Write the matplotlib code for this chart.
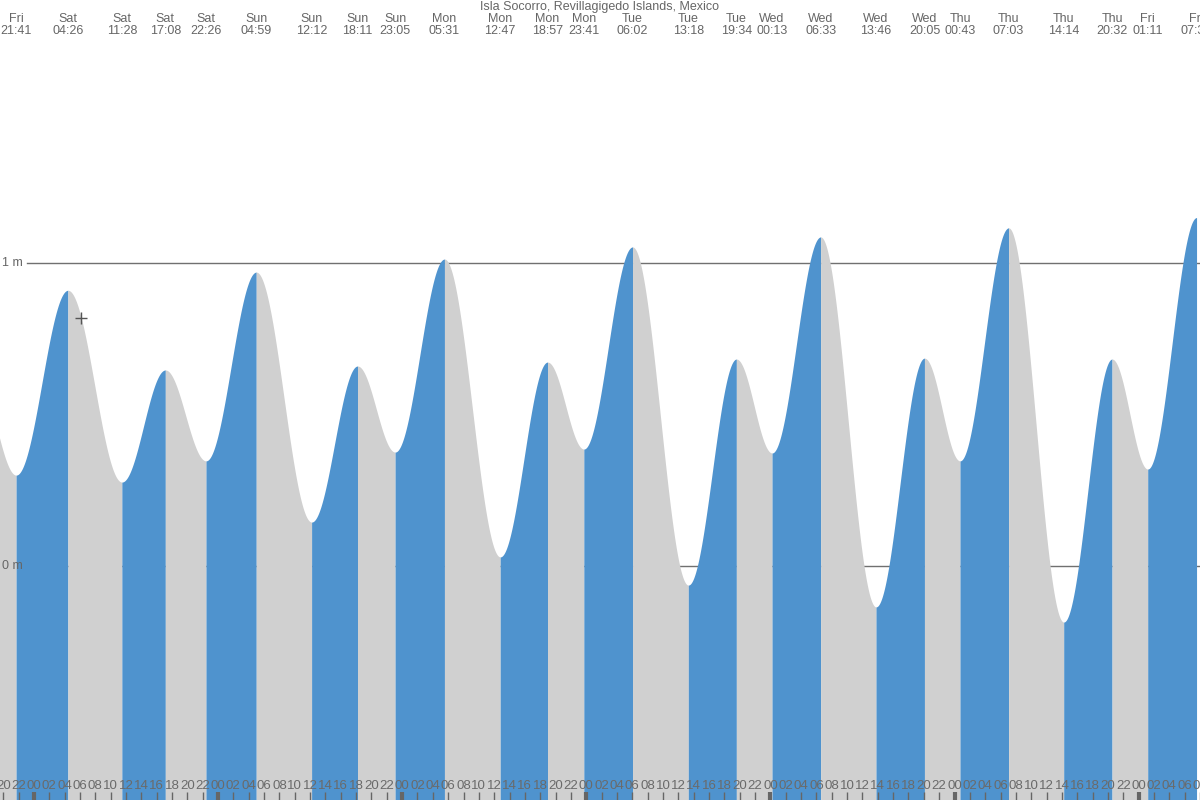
import numpy as np
import matplotlib
matplotlib.use("Agg")
import matplotlib.pyplot as plt
from matplotlib.transforms import blended_transform_factory

plt.rcParams['font.family'] = ['Liberation Sans', 'DejaVu Sans']

title = "Isla Socorro, Revillagigedo Islands, Mexico"

# tide extremes (day, time, height in m); first one is off-chart on the left
ext_day = ["Fri", "Fri", "Sat", "Sat", "Sat", "Sat", "Sun", "Sun", "Sun", "Sun",
           "Mon", "Mon", "Mon", "Mon", "Tue", "Tue", "Tue", "Wed", "Wed", "Wed",
           "Wed", "Thu", "Thu", "Thu", "Thu", "Fri", "Fri"]
ext_time = ["16:25", "21:41", "04:26", "11:28", "17:08", "22:26", "04:59", "12:12",
            "18:11", "23:05", "05:31", "12:47", "18:57", "23:41", "06:02", "13:18",
            "19:34", "00:13", "06:33", "13:46", "20:05", "00:43", "07:03", "14:14",
            "20:32", "01:11", "07:33"]
ext_height = [0.64, 0.30, 0.91, 0.277, 0.647, 0.347, 0.97, 0.145, 0.66, 0.376,
              1.013, 0.03, 0.673, 0.386, 1.053, -0.063, 0.683, 0.373, 1.086, -0.135,
              0.686, 0.347, 1.116, -0.185, 0.683, 0.32, 1.15]

now_t, now_h = 6.1, 0.818   # the "+" marker (hours from Sat 00:00)

# hours relative to Saturday 00:00
offs = []
d = -1
prev = ext_day[0]
for name in ext_day:
    if name != prev:
        d += 1
        prev = name
    offs.append(d)
ext_t = np.array([o * 24 + int(s[:2]) + int(s[3:]) / 60 for o, s in zip(offs, ext_time)])
ext_h = np.array(ext_height)

BLUE = "#4f93ce"
GREY = "#d0d0d0"
TXT = "#666666"

fig = plt.figure(figsize=(12, 8), dpi=100)
ax = fig.add_axes([0, 0, 1, 1])
pxh = 7.7
xmin, xmax = -34 / pxh, 1166 / pxh
ymin, ymax = -234 / 303, 566 / 303
ax.set_xlim(xmin, xmax)
ax.set_ylim(ymin, ymax)
for s in ax.spines.values():
    s.set_visible(False)

# reference lines behind the fill
for lv in [0, 1]:
    ax.axhline(lv, xmin=27 / 1200, color="#707070", lw=1, zorder=1)
    ax.text(0.002, lv, f"{lv} m", transform=blended_transform_factory(ax.transAxes, ax.transData),
            color=TXT, fontsize=9, ha="left", va="center", zorder=5)

# cosine interpolation between extremes, blue rising / grey falling
for i in range(len(ext_t) - 1):
    t0, t1 = ext_t[i], ext_t[i + 1]
    h0, h1 = ext_h[i], ext_h[i + 1]
    tt = np.linspace(t0, t1, 200)
    hh = h0 + (h1 - h0) * (1 - np.cos(np.pi * (tt - t0) / (t1 - t0))) / 2
    ax.fill_between(tt, ymin, hh, color=BLUE if h1 > h0 else GREY, lw=0, zorder=2)

ax.plot([now_t], [now_h], marker="+", ms=9, mew=1, color="#555555", zorder=6)

# labels of extremes on top
tr = blended_transform_factory(ax.transData, ax.transAxes)
for name, tm, t in zip(ext_day, ext_time, ext_t):
    if t < xmin:
        continue
    ax.text(t, 1 - 19 / 800, name, transform=tr, ha="center", va="center", fontsize=9, color=TXT)
    ax.text(t, 1 - 31 / 800, tm, transform=tr, ha="center", va="center", fontsize=9, color=TXT)
ax.text(0.5, 1 - 7 / 800, title, transform=ax.transAxes, ha="center", va="center", fontsize=9, color=TXT)

# hour ticks along the bottom
hours = np.arange(np.ceil(xmin / 2) * 2, xmax + 1, 2)
major = [h for h in hours if h % 24 == 0]
minor = [h for h in hours if h % 24 != 0]
ax.set_xticks(major)
ax.set_xticks(minor, minor=True)
ax.set_xticklabels(["%02d" % (int(h) % 24) for h in major])
ax.set_xticklabels(["%02d" % (int(h) % 24) for h in minor], minor=True)
ax.tick_params(axis="x", which="both", direction="in", pad=-14.5, labelsize=9.5,
               labelcolor="#6a6a6a", color=TXT)
ax.tick_params(axis="x", which="major", length=5.8, width=3)
ax.tick_params(axis="x", which="minor", length=5.8, width=1)
for lab in ax.get_xticklabels(which="both"):
    lab.set_zorder(6)
ax.set_yticks([])
ax.set_axisbelow(False)

fig.savefig("out.png", dpi=100)
